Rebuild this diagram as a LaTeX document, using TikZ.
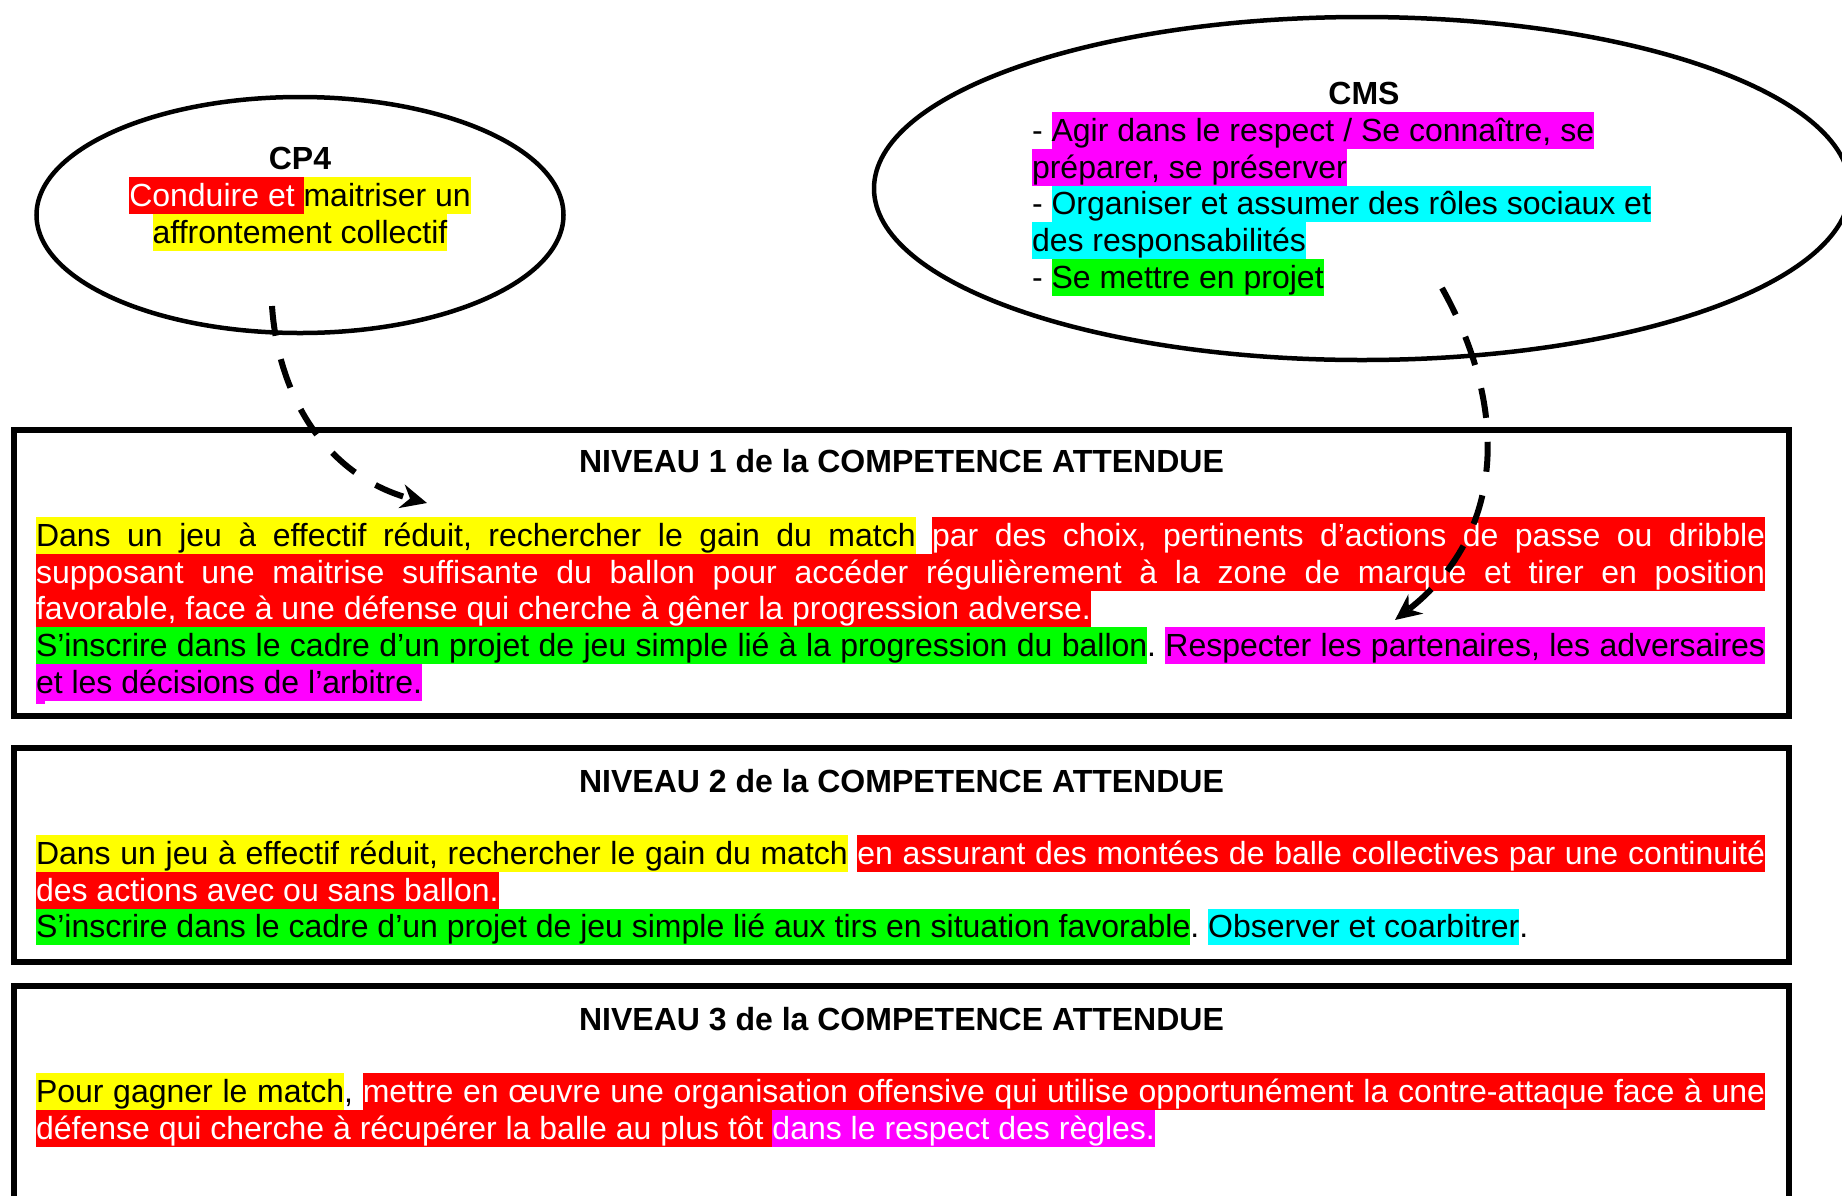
\documentclass[tikz,border=0pt]{standalone}
\usepackage{fontspec}
\setmainfont{Liberation Sans}
\usetikzlibrary{shapes.geometric,arrows.meta}
\definecolor{hlY}{RGB}{255,255,0}
\definecolor{hlR}{RGB}{255,0,0}
\definecolor{hlG}{RGB}{0,255,0}
\definecolor{hlC}{RGB}{0,255,255}
\definecolor{hlM}{RGB}{255,0,255}
\newdimen\hlht \hlht=29.3pt
\newdimen\hldp \hldp=7.5pt
\newdimen\txtW \txtW=1729pt
\def\HLstrut{\vrule width0pt height\hlht depth\hldp\relax}
\def\HLs#1{{\color{#1}\leaders\vrule height\hlht depth\hldp\hskip\fontdimen2\font plus 1fil\relax}}
\def\Sp{\hskip\fontdimen2\font plus 1fil\relax}
\def\HLword#1{\setbox0\hbox{\color{\HLfg}#1}{\color{\HLbg}\vrule width\wd0 height\hlht depth\hldp}\kern-\wd0 \box0 }
\def\HL#1#2#3{\def\HLbg{#1}\def\HLfg{#2}\HLloop#3 \HLend}
\def\HLloop#1 #2\HLend{\HLword{#1}\if\relax\detokenize{#2}\relax\else\HLs{\HLbg}\HLloop#2\HLend\fi}
\def\CF{\hskip0pt plus1fill\relax}
\tikzset{
  txt/.style={inner sep=0pt, outer sep=0pt, font=\fontsize{32pt}{36.8pt}\selectfont},
  ttl/.style={txt, anchor=base, font=\fontsize{32pt}{36.8pt}\selectfont\bfseries},
  ell/.style={ellipse, draw, line width=4.5pt, inner sep=0pt},
  niv/.style={draw, line width=5.5pt, minimum width=1775pt, inner sep=0pt},
  conn/.style={line width=6pt, dash pattern=on 30pt off 24pt, -{Stealth[length=26pt,width=24pt]}}
}
\begin{document}
\begin{tikzpicture}[x=1pt,y=-1pt]
\useasboundingbox (0,0) rectangle (1842,1195);
\fill[white] (0,0) rectangle (1842,1195);
\clip (0,0) rectangle (1842,1195);

% ellipses
\node[ell, minimum width=527pt, minimum height=236pt] (cp4) at (300,215) {};
\node[ell, minimum width=976pt, minimum height=343pt] (cms) at (1362,188.5) {};

% CP4 text
\node[txt, anchor=north] (cp4t) at (300,140.2) {\vbox{\offinterlineskip
\hbox to 500pt{\CF\HLstrut\bfseries CP4\CF}%
\hbox to 500pt{\CF\HLstrut\HL{hlR}{white}{Conduire et}\HLs{hlR}\HL{hlY}{black}{maitriser un}\CF}%
\hbox to 500pt{\CF\HLstrut\HL{hlY}{black}{affrontement collectif}\CF}}};

% CMS text
\node[ttl] (cmst) at (1364,104.5) {CMS};
\node[txt, anchor=north west] (cmsl) at (1032,112) {\vbox{\offinterlineskip
\hbox{\HLstrut-\Sp\HL{hlM}{black}{Agir dans le respect / Se connaître, se}}%
\hbox{\HLstrut\HL{hlM}{black}{préparer, se préserver}}%
\hbox{\HLstrut-\Sp\HL{hlC}{black}{Organiser et assumer des rôles sociaux et}}%
\hbox{\HLstrut\HL{hlC}{black}{des responsabilités}}%
\hbox{\HLstrut-\Sp\HL{hlG}{black}{Se mettre en projet}}}};

% level boxes
\node[niv, minimum height=286pt] (n1) at (901.5,573) {};
\node[niv, minimum height=214pt] (n2) at (901.5,855) {};
\node[niv, minimum height=244pt] (n3) at (901.5,1108) {};

\node[ttl] (n1t) at (901.5,472.5) {NIVEAU 1 de la COMPETENCE ATTENDUE};
\node[ttl] (n2t) at (901.5,792.5) {NIVEAU 2 de la COMPETENCE ATTENDUE};
\node[ttl] (n3t) at (901.5,1030) {NIVEAU 3 de la COMPETENCE ATTENDUE};

\node[txt, anchor=north west] (t1) at (36,517) {\vbox{\offinterlineskip
\hbox to\txtW{\HLstrut\HL{hlY}{black}{Dans un jeu à effectif réduit, rechercher le gain du match}\Sp\HL{hlR}{white}{par des choix, pertinents d’actions de passe ou dribble}}%
\hbox to\txtW{\HLstrut\HL{hlR}{white}{supposant une maitrise suffisante du ballon pour accéder régulièrement à la zone de marque et tirer en position}}%
\hbox{\HLstrut\HL{hlR}{white}{favorable, face à une défense qui cherche à gêner la progression adverse.}}%
\hbox to\txtW{\HLstrut\HL{hlG}{black}{S’inscrire dans le cadre d’un projet de jeu simple lié à la progression du ballon}.\Sp\HL{hlM}{black}{Respecter les partenaires, les adversaires}}%
\hbox{\HLstrut\HL{hlM}{black}{et les décisions de l’arbitre.}}}};
\fill[hlM] (36,701) rectangle (45,704);

\node[txt, anchor=north west] (t2) at (36,835) {\vbox{\offinterlineskip
\hbox to\txtW{\HLstrut\HL{hlY}{black}{Dans un jeu à effectif réduit, rechercher le gain du match}\Sp\HL{hlR}{white}{en assurant des montées de balle collectives par une continuité}}%
\hbox{\HLstrut\HL{hlR}{white}{des actions avec ou sans ballon.}}%
\hbox{\HLstrut\HL{hlG}{black}{S’inscrire dans le cadre d’un projet de jeu simple lié aux tirs en situation favorable}.\Sp\HL{hlC}{black}{Observer et coarbitrer}.}}};

\node[txt, anchor=north west] (t3) at (36,1073) {\vbox{\offinterlineskip
\hbox to\txtW{\HLstrut\HL{hlY}{black}{Pour gagner le match},\Sp\HL{hlR}{white}{mettre en œuvre une organisation offensive qui utilise opportunément la contre-attaque face à une}}%
\hbox{\HLstrut\HL{hlR}{white}{défense qui cherche à récupérer la balle au plus tôt}\HLs{hlR}\HL{hlM}{white}{dans le respect des règles.}}}};

% connectors
\coordinate (a1s) at (272,306);
\coordinate (a1e) at (427,503);
\coordinate (a2s) at (1442,288);
\coordinate (a2e) at (1395,620);
\draw[conn] (a1s) .. controls (278,395) and (325,476) .. (a1e);
\draw[conn] (a2s) .. controls (1510,410) and (1505,535) .. (a2e);
\end{tikzpicture}
\end{document}
